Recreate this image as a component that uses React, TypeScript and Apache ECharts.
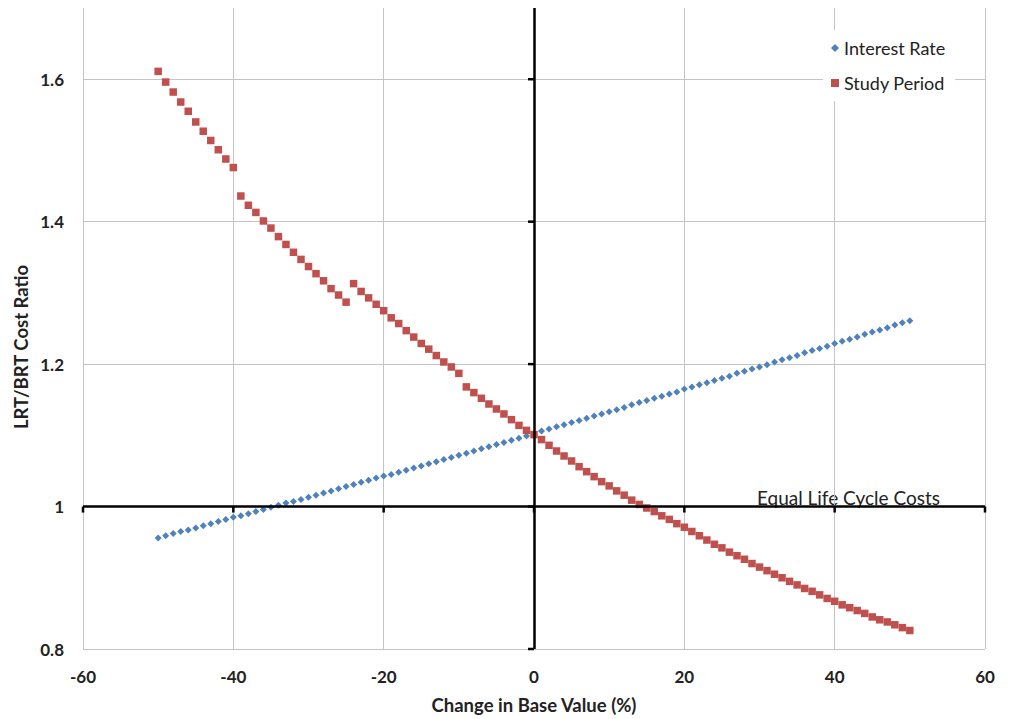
import React, { useEffect, useRef } from "react";
import * as echarts from "echarts";

const xValues = [
  -50, -49, -48, -47, -46, -45, -44, -43, -42, -41, -40, -39, -38, -37, -36, -35, -34, -33, -32, -31,
  -30, -29, -28, -27, -26, -25, -24, -23, -22, -21, -20, -19, -18, -17, -16, -15, -14, -13, -12, -11,
  -10, -9, -8, -7, -6, -5, -4, -3, -2, -1, 0, 1, 2, 3, 4, 5, 6, 7, 8, 9,
  10, 11, 12, 13, 14, 15, 16, 17, 18, 19, 20, 21, 22, 23, 24, 25, 26, 27, 28, 29,
  30, 31, 32, 33, 34, 35, 36, 37, 38, 39, 40, 41, 42, 43, 44, 45, 46, 47, 48, 49, 50,
];

const interestRate = [
  0.956, 0.959, 0.962, 0.965, 0.967, 0.970, 0.973, 0.976, 0.979, 0.982, 0.985, 0.987, 0.990, 0.993, 0.996, 0.999, 1.002, 1.005, 1.007, 1.010,
  1.013, 1.016, 1.019, 1.022, 1.025, 1.028, 1.031, 1.034, 1.037, 1.040, 1.043, 1.045, 1.048, 1.051, 1.054, 1.057, 1.060, 1.063, 1.066, 1.069,
  1.072, 1.075, 1.078, 1.081, 1.084, 1.087, 1.090, 1.093, 1.096, 1.099, 1.102, 1.106, 1.109, 1.112, 1.115, 1.118, 1.121, 1.124, 1.127, 1.130,
  1.133, 1.136, 1.139, 1.143, 1.146, 1.149, 1.152, 1.155, 1.158, 1.161, 1.165, 1.168, 1.171, 1.174, 1.177, 1.180, 1.183, 1.187, 1.190, 1.193,
  1.196, 1.199, 1.203, 1.206, 1.209, 1.212, 1.216, 1.219, 1.222, 1.225, 1.229, 1.232, 1.235, 1.238, 1.242, 1.245, 1.248, 1.251, 1.255, 1.258, 1.261,
];

const studyPeriod = [
  1.611, 1.596, 1.582, 1.568, 1.555, 1.540, 1.527, 1.514, 1.501, 1.488, 1.476, 1.436, 1.423, 1.413, 1.401, 1.391, 1.379, 1.368, 1.357, 1.347,
  1.337, 1.327, 1.317, 1.306, 1.297, 1.287, 1.313, 1.302, 1.293, 1.284, 1.275, 1.265, 1.257, 1.247, 1.238, 1.229, 1.221, 1.212, 1.203, 1.196,
  1.187, 1.168, 1.160, 1.152, 1.144, 1.137, 1.130, 1.122, 1.114, 1.107, 1.101, 1.094, 1.086, 1.078, 1.071, 1.064, 1.056, 1.049, 1.042, 1.035,
  1.029, 1.022, 1.016, 1.009, 1.003, 0.998, 0.993, 0.987, 0.982, 0.976, 0.971, 0.965, 0.959, 0.953, 0.947, 0.942, 0.936, 0.931, 0.926, 0.920,
  0.915, 0.910, 0.905, 0.900, 0.895, 0.890, 0.885, 0.881, 0.876, 0.871, 0.867, 0.862, 0.858, 0.854, 0.850, 0.845, 0.841, 0.838, 0.834, 0.830, 0.826,
];

const xTicks = [-60, -40, -20, 0, 20, 40, 60];
const yTicks = [0.8, 1.0, 1.2, 1.4, 1.6];
const seriesNames = ["Interest Rate", "Study Period"];
const equalLabel = "Equal Life Cycle Costs";
const xAxisTitle = "Change in Base Value (%)";
const yAxisTitle = "LRT/BRT Cost Ratio";

const FONT = "Lato, 'Open Sans', sans-serif";

export default function App() {
  const ref = useRef<HTMLDivElement>(null);

  useEffect(() => {
    if (!ref.current) return;
    const chart = echarts.init(ref.current, null, { renderer: "svg" });
    const gridColor = "#c4c4c4";

    const option: any = {
      animation: false,
      backgroundColor: "#ffffff",
      textStyle: { fontFamily: FONT },
      grid: { left: 83, right: 25, top: 8, bottom: 70, containLabel: false },
      legend: {
        orient: "vertical",
        left: 823,
        top: 30,
        padding: [8, 10, 8, 8],
        itemGap: 15,
        itemWidth: 8,
        itemHeight: 8,
        backgroundColor: "#ffffff",
        textStyle: { fontFamily: FONT, fontSize: 18, lineHeight: 20, color: "#222" },
        data: [
          { name: seriesNames[0], icon: "diamond", itemStyle: { opacity: 1 } },
          { name: seriesNames[1], icon: "rect", itemStyle: { opacity: 1 } },
        ],
      },
      xAxis: {
        type: "value",
        min: -60,
        max: 60,
        interval: 20,
        name: xAxisTitle,
        nameLocation: "middle",
        nameGap: 46,
        nameTextStyle: { fontFamily: FONT, fontSize: 18.5, fontWeight: "bold", color: "#222" },
        axisLine: { show: false },
        axisTick: { show: false },
        axisLabel: { margin: 19, fontFamily: FONT, fontSize: 17, fontWeight: "bold", color: "#222" },
        splitLine: { show: true, lineStyle: { color: gridColor, width: 1 } },
      },
      yAxis: {
        type: "value",
        min: 0.8,
        max: 1.7,
        interval: 0.2,
        axisLine: { show: false },
        axisTick: { show: false },
        axisLabel: {
          margin: 19,
          showMaxLabel: false,
          fontFamily: FONT,
          fontSize: 17,
          fontWeight: "bold",
          color: "#222",
          formatter: (v: number) => String(Math.round(v * 10) / 10),
        },
        splitLine: { show: true, showMaxLine: false, lineStyle: { color: gridColor, width: 1 } },
      },
      graphic: [
        {
          type: "text",
          x: 21,
          y: 347,
          rotation: Math.PI / 2,
          style: {
            text: yAxisTitle,
            fontFamily: FONT,
            fontSize: 18.5,
            fontWeight: "bold",
            fill: "#222",
            textAlign: "center",
            textVerticalAlign: "middle",
          },
        },
        {
          type: "text",
          x: 940,
          y: 497,
          style: {
            text: equalLabel,
            fontFamily: FONT,
            fontSize: 19,
            fill: "#222",
            textAlign: "right",
            textVerticalAlign: "middle",
          },
        },
      ],
      series: [
        {
          name: "axes",
          type: "scatter",
          data: [],
          silent: true,
          z: 1,
          markLine: {
            silent: true,
            symbol: ["none", "none"],
            label: { show: false },
            lineStyle: { color: "#000", width: 2.5, type: "solid" },
            data: [{ xAxis: 0 }, { yAxis: 1 }],
          },
        },
        {
          name: "xticks",
          type: "scatter",
          silent: true,
          z: 1,
          symbol: "rect",
          symbolSize: [2.5, 6],
          symbolOffset: [0, 3],
          itemStyle: { color: "#000", opacity: 1 },
          data: xTicks.map((x) => [x, 1]),
        },
        {
          name: "yticks",
          type: "scatter",
          silent: true,
          z: 1,
          symbol: "rect",
          symbolSize: [6, 2.5],
          symbolOffset: [-3, 0],
          itemStyle: { color: "#000", opacity: 1 },
          data: yTicks.map((y) => [0, y]),
        },
        {
          name: seriesNames[0],
          type: "scatter",
          symbol: "diamond",
          symbolSize: 7,
          z: 3,
          itemStyle: { color: "#4F81BD", opacity: 1 },
          data: xValues.map((x, i) => [x, interestRate[i]]),
        },
        {
          name: seriesNames[1],
          type: "scatter",
          symbol: "rect",
          symbolSize: 7.5,
          z: 4,
          itemStyle: { color: "#C0504D", opacity: 1 },
          data: xValues.map((x, i) => [x, studyPeriod[i]]),
        },
      ],
    };

    chart.setOption(option);
    return () => chart.dispose();
  }, []);

  return (
    <div
      ref={ref}
      style={{ position: "absolute", left: 0, top: 0, width: 1010, height: 719 }}
    />
  );
}
